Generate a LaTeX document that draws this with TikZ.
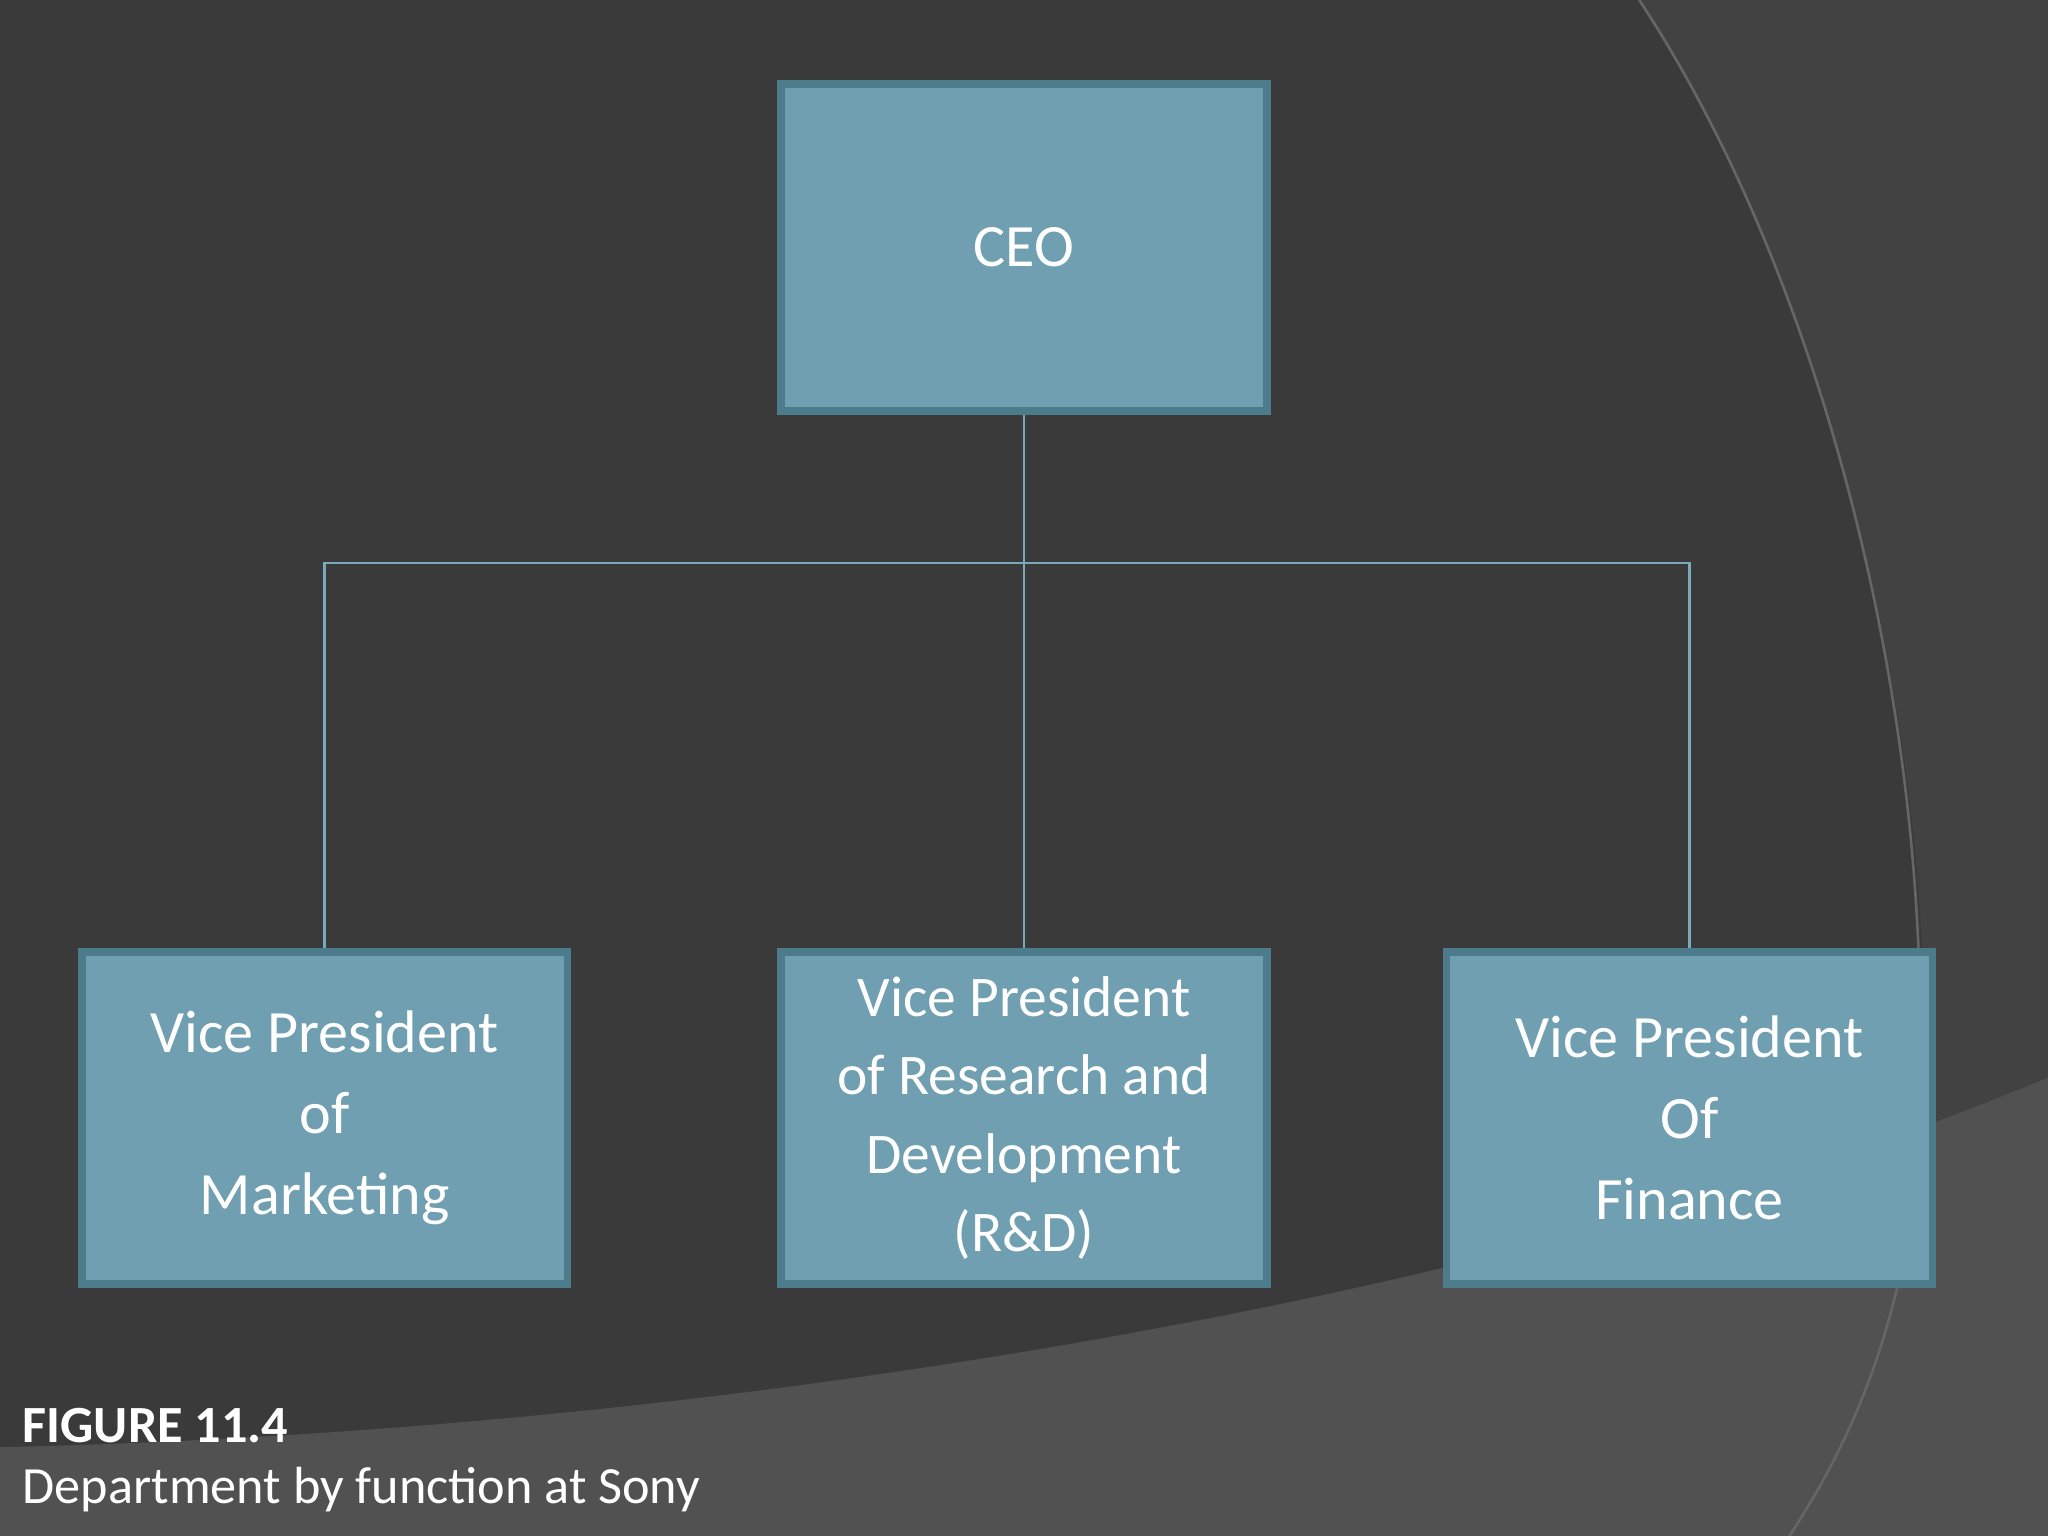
\documentclass[tikz,border=0pt]{standalone}
\usepackage{fontspec}
\setmainfont{Carlito}
\definecolor{bgd}{HTML}{3A3A3A}
\definecolor{bgm}{HTML}{424242}
\definecolor{bgl}{HTML}{515151}
\definecolor{boxf}{HTML}{6F9FB0}
\definecolor{boxb}{HTML}{4C7C8C}
\definecolor{linec}{HTML}{7AAAB8}
\begin{document}
\begin{tikzpicture}[x=0.5pt,y=-0.5pt,
  orgbox/.style={draw=boxb,line width=3pt,fill=boxf,minimum width=186pt,minimum height=127pt,
    text=white,font=\fontsize{23}{31}\selectfont,align=center,inner sep=0pt,
    append after command={\pgfextra{\draw[boxb!80!white,line width=0.6pt]
      ([shift={(4pt,-4pt)}]\tikzlastnode.north west) rectangle ([shift={(-4pt,4pt)}]\tikzlastnode.south east);}}},
  conn/.style={draw=linec,line width=1pt}]
\fill[bgd] (0,0) rectangle (1568,1176);
\useasboundingbox (0,0) rectangle (1568,1176);
\fill[bgm] (1255,0) .. controls (1420,250) and (1500,650) .. (1465,930) -- (1568,930) -- (1568,0) -- cycle;
\fill[bgl] (0,1176) -- (0,1108) .. controls (600,1095) and (1200,980) .. (1568,825) -- (1568,1176) -- cycle;
\draw[black!60,line width=1pt] (1255,0) .. controls (1420,250) and (1500,650) .. (1460,950) .. controls (1440,1060) and (1400,1130) .. (1370,1176);
\node[orgbox,minimum height=125pt] (ceo) at (784,189.5) {CEO};
\node[orgbox] (mkt) at (248.5,856) {Vice President\\of\\Marketing};
\node[orgbox,font=\fontsize{22}{30}\selectfont] (rd) at (784,856) {Vice President\\of Research and\\Development\\(R\&D)};
\node[orgbox] (fin) at (1293.5,856) {Vice President\\Of\\Finance};
\coordinate (j) at (784,431);
\draw[conn] (ceo.south) -- (rd.north);
\draw[conn] (mkt.north) |- (j) -| (fin.north);
\node[anchor=south west,text=white,font=\bfseries\fontsize{20}{24}\selectfont,inner sep=0pt] (fig) at (17,1105) {FIGURE 11.4};
\node[anchor=south west,text=white,font=\fontsize{20}{24}\selectfont,inner sep=0pt] (cap) at (17,1158) {Department by function at Sony};
\end{tikzpicture}
\end{document}
